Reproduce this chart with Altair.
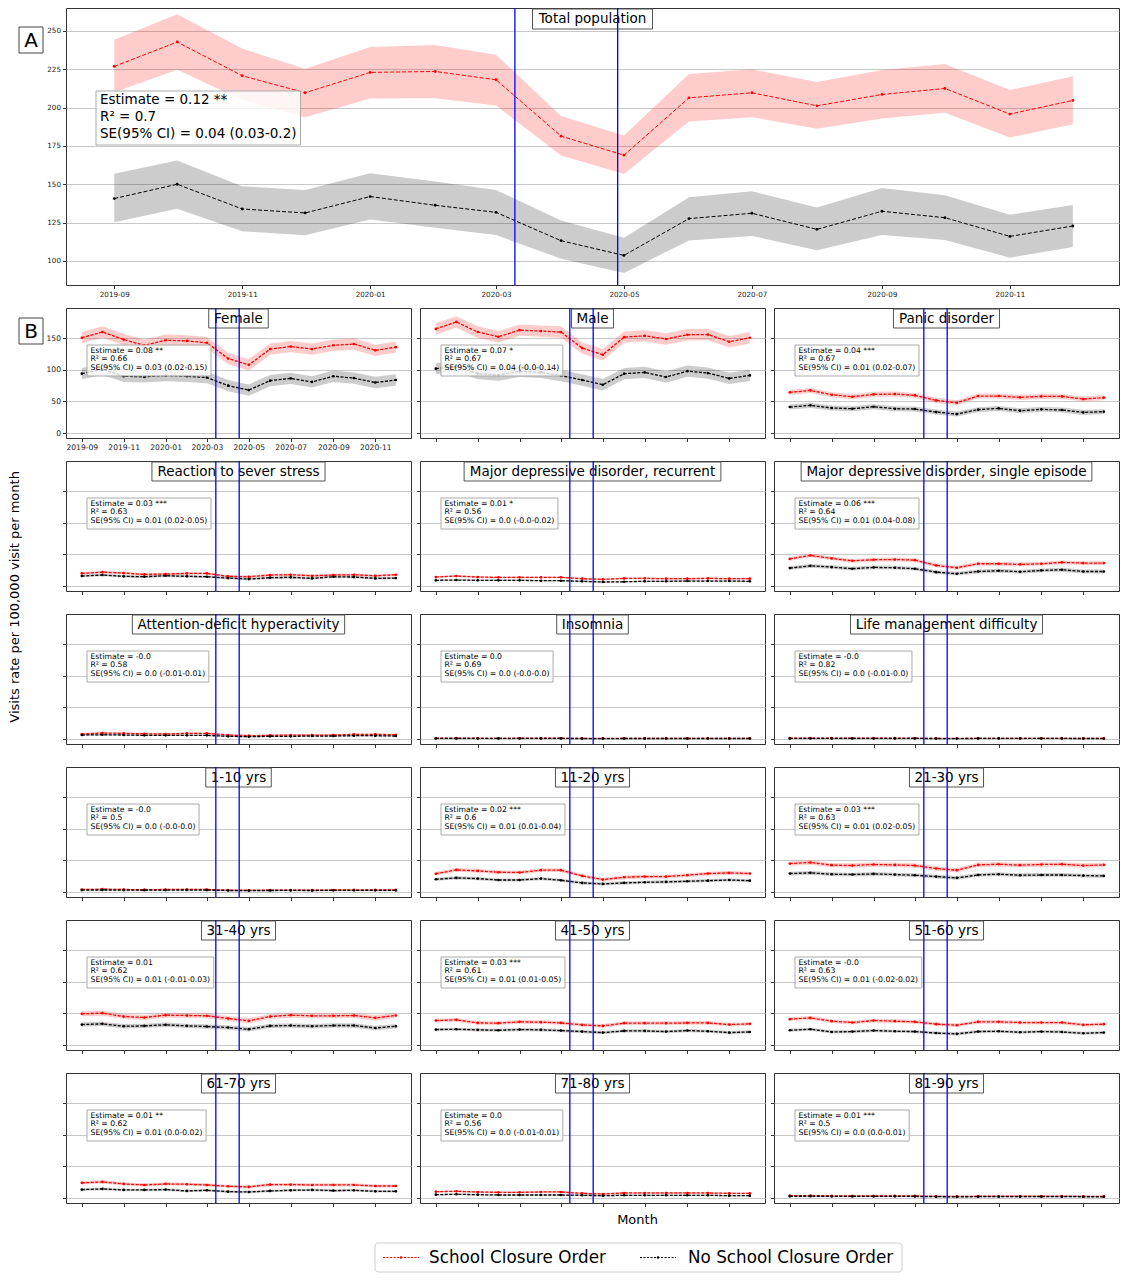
import altair as alt
import pandas as pd

# ---------------- data ----------------
MONTHS = ["2019-09-01", "2019-10-01", "2019-11-01", "2019-12-01", "2020-01-01", "2020-02-01",
          "2020-03-01", "2020-04-01", "2020-05-01", "2020-06-01", "2020-07-01", "2020-08-01",
          "2020-09-01", "2020-10-01", "2020-11-01", "2020-12-01"]
TICK_MONTHS = ["2019-09-01", "2019-11-01", "2020-01-01", "2020-03-01",
               "2020-05-01", "2020-07-01", "2020-09-01", "2020-11-01"]
GROUPS = ["School Closure Order", "No School Closure Order"]

# Panel A: total population
A_red = [226.9, 242.8, 220.8, 209.7, 223.0, 223.6, 218.2, 181.4, 169.0, 206.4, 209.7, 201.2, 208.6, 212.5, 195.8, 204.7]
A_red_hi = [244.3, 260.9, 238.5, 225.4, 239.5, 240.9, 234.5, 194.5, 181.8, 221.9, 225.0, 216.7, 224.5, 228.4, 211.5, 220.4]
A_red_lo = [210.0, 224.7, 205.0, 193.8, 206.0, 206.2, 201.4, 168.8, 156.7, 191.0, 193.8, 186.2, 192.9, 196.6, 180.5, 189.2]
A_blk = [140.7, 150.0, 133.9, 131.3, 142.0, 136.3, 131.7, 113.2, 103.6, 127.6, 131.1, 120.6, 132.4, 128.2, 116.0, 122.8]
A_blk_hi = [156.8, 165.5, 148.7, 146.3, 157.2, 151.8, 146.3, 126.3, 115.2, 141.5, 145.5, 134.8, 147.6, 142.8, 130.2, 136.5]
A_blk_lo = [125.2, 134.1, 119.3, 116.7, 127.0, 121.7, 116.9, 101.5, 92.2, 113.4, 116.3, 106.9, 116.9, 113.7, 102.1, 109.1]
A_stats = ["Estimate = 0.12 **", "R\u00b2 = 0.7", "SE(95% CI) = 0.04 (0.03-0.2)"]
A_vlines = ["2020-03-10", "2020-04-28"]
B_vlines = ["2020-03-14", "2020-04-17"]

B_names = ["Female", "Male", "Panic disorder",
           "Reaction to sever stress", "Major depressive disorder, recurrent",
           "Major depressive disorder, single episode",
           "Attention-deficit hyperactivity", "Insomnia", "Life management difficulty",
           "1-10 yrs", "11-20 yrs", "21-30 yrs",
           "31-40 yrs", "41-50 yrs", "51-60 yrs",
           "61-70 yrs", "71-80 yrs", "81-90 yrs"]

B_red = [
    [151, 160, 148, 139, 147, 146, 143, 118, 108, 133, 137, 133, 139, 141, 131, 136],
    [165, 176, 160, 152.5, 163, 161.5, 160, 134.6, 124, 152, 154, 149, 155.7, 156, 144.6, 151],
    [64.4, 67.5, 60.7, 57.5, 61.2, 61.7, 59.6, 51.7, 48, 58.6, 58.6, 56.5, 58, 58, 53.8, 56],
    [20, 22, 20.5, 18.4, 19, 20, 20, 15.3, 14.7, 17.4, 17.9, 16.3, 17.4, 17.9, 16.3, 17.9],
    [14.2, 15.8, 14.2, 13.7, 13.7, 13.7, 13.7, 11.6, 10.5, 12.1, 12.1, 11.6, 11.6, 12.1, 11.6, 11.6],
    [43, 48.4, 43.7, 40, 41.6, 42, 41, 32.6, 29, 35.3, 35.3, 34.2, 35.3, 37.4, 36.3, 36.3],
    [7.9, 9.5, 9, 8.4, 7.9, 9, 9, 6.3, 5.3, 5.8, 6.3, 6.3, 6.3, 7.4, 7.4, 6.8],
    [1.2, 1.3, 1.2, 1.1, 1.2, 1.2, 1.2, 1.0, 0.9, 1.0, 1.0, 1.0, 1.0, 1.1, 1.0, 1.0],
    [1.3, 1.4, 1.3, 1.2, 1.3, 1.3, 1.2, 1.0, 0.9, 1.1, 1.1, 1.1, 1.1, 1.1, 1.0, 1.0],
    [4, 4.5, 4, 3.8, 4, 4.3, 4, 3, 2.8, 3, 3, 3, 3.2, 3.5, 3.3, 3.4],
    [29, 35, 33.5, 31.4, 31, 34.6, 34.6, 25.5, 19.7, 23.4, 24.5, 24.5, 26.6, 29.3, 30.3, 29.3],
    [45, 46.8, 42.6, 42, 43.6, 43, 42, 37.2, 34.6, 43, 44, 42.6, 43.6, 44, 42, 43],
    [49.5, 50.5, 45.2, 43.6, 47.3, 46.8, 46.3, 42, 38.3, 45.2, 47.3, 46.3, 46.3, 46.8, 43, 46.8],
    [38.8, 39.9, 35, 34.6, 36.7, 36.2, 35, 32, 30.3, 34.6, 34.6, 34.6, 35, 35, 32.4, 33.5],
    [41, 43, 37.8, 35.6, 38.8, 37.8, 36.7, 33, 31.4, 36.7, 36.7, 35.6, 35.6, 35.6, 32, 33],
    [24, 25.5, 22.3, 20.7, 22.3, 21.8, 20.7, 18.6, 17.6, 21.3, 21.3, 20.7, 20.7, 20.7, 19, 19],
    [10.1, 10.6, 9.6, 9, 9, 9.6, 9.6, 7.4, 6.4, 8, 8, 8, 8, 8, 7.4, 7.4],
    [3.7, 3.9, 3.5, 3.4, 3.5, 3.5, 3.3, 2.7, 2.5, 2.8, 2.8, 2.8, 2.9, 2.9, 2.7, 2.7],
]
B_blk = [
    [94, 101, 90, 89, 91, 90, 88, 75, 68, 83, 86.5, 81, 90, 87, 80, 84],
    [102, 105.5, 94, 92, 97.6, 96, 91, 84, 76.5, 94, 96, 88.7, 98, 95, 86.5, 91.3],
    [41.2, 43.8, 39.6, 38.5, 41.7, 38.5, 38, 33.2, 30, 37, 39, 35.4, 37.5, 36.4, 32.7, 33.8],
    [15.8, 17.4, 15.3, 14.7, 16.3, 15.3, 14.7, 12.6, 11, 13.2, 13.7, 12.1, 14.7, 14.2, 12.1, 12.6],
    [9, 9.5, 9, 9, 9, 8.4, 8.4, 7.4, 6.3, 6.8, 7.4, 7.4, 7.9, 7.9, 7.9, 7.4],
    [28.4, 32, 30, 27.4, 29.5, 29, 27.4, 22, 19.5, 23, 24.2, 22.6, 24.7, 25.8, 23, 23],
    [6.3, 6.8, 6.3, 5.8, 5.8, 5.8, 5.8, 4.2, 3.7, 4.2, 4.2, 4.7, 4.7, 5.3, 5.3, 4.7],
    [0.9, 1.0, 0.9, 0.9, 0.9, 0.9, 0.9, 0.8, 0.7, 0.8, 0.8, 0.8, 0.8, 0.8, 0.8, 0.8],
    [1.0, 1.1, 1.0, 1.0, 1.0, 1.0, 0.9, 0.8, 0.7, 0.9, 0.9, 0.9, 0.9, 0.9, 0.8, 0.8],
    [3, 3.2, 3, 2.8, 3, 3.2, 3, 2.4, 2.2, 2.4, 2.5, 2.4, 2.6, 2.7, 2.6, 2.7],
    [20.2, 22.3, 21.3, 19, 19, 21.3, 18.6, 14.4, 12.8, 14.4, 15.4, 16, 17, 18, 19, 18],
    [29.3, 30.3, 28.2, 27.7, 28.7, 27.7, 26.6, 24.5, 22.3, 27, 28.2, 26.6, 27, 27, 26, 25.5],
    [32.4, 33.5, 29.8, 30.3, 32, 30.3, 29.3, 27.7, 25, 30.3, 30.9, 29.8, 30.9, 30.9, 27, 29.8],
    [24.5, 25, 24, 23.4, 24.5, 24, 22.9, 21.3, 19.7, 22.3, 22.3, 21.3, 22.9, 21.8, 19.7, 20.7],
    [23.4, 25, 20.7, 21.3, 22.9, 21.8, 21.3, 19, 17.6, 21.3, 21.8, 20.2, 21.3, 20.7, 18.6, 19.7],
    [13.3, 14.4, 12.8, 12.8, 13.3, 11.2, 12.2, 10.1, 9.6, 11.2, 12.2, 12.8, 11.7, 12.2, 10.6, 10.6],
    [5.3, 5.9, 5.3, 4.8, 4.8, 4.8, 4.8, 4.3, 3.7, 4.3, 4.3, 4.3, 4.3, 4.3, 3.7, 3.7],
    [2.7, 2.9, 2.6, 2.5, 2.6, 2.6, 2.5, 2.1, 1.9, 2.1, 2.2, 2.1, 2.2, 2.2, 2.0, 2.0],
]
# approximate half-widths of the 95% CI bands
B_red_hw = [9, 9, 4, 2, 1.5, 3, 1.5, 0.5, 0.5, 1, 3, 3.5, 4, 3, 3, 2.5, 1.5, 1]
B_blk_hw = [9, 9, 4, 2, 1.2, 3, 1.2, 0.5, 0.5, 1, 2.5, 3, 3.5, 2.5, 2.5, 2, 1.2, 0.8]

B_est = ["0.08 **", "0.07 *", "0.04 ***", "0.03 ***", "0.01 *", "0.06 ***", "-0.0", "0.0", "-0.0",
         "-0.0", "0.02 ***", "0.03 ***", "0.01", "0.03 ***", "-0.0", "0.01 **", "0.0", "0.01 ***"]
B_r2 = ["0.66", "0.67", "0.67", "0.63", "0.56", "0.64", "0.58", "0.69", "0.82",
        "0.5", "0.6", "0.63", "0.62", "0.61", "0.63", "0.62", "0.56", "0.5"]
B_se = ["0.03 (0.02-0.15)", "0.04 (-0.0-0.14)", "0.01 (0.02-0.07)", "0.01 (0.02-0.05)",
        "0.0 (-0.0-0.02)", "0.01 (0.04-0.08)", "0.0 (-0.01-0.01)", "0.0 (-0.0-0.0)",
        "0.0 (-0.01-0.0)", "0.0 (-0.0-0.0)", "0.01 (0.01-0.04)", "0.01 (0.02-0.05)",
        "0.01 (-0.01-0.03)", "0.01 (0.01-0.05)", "0.01 (-0.02-0.02)", "0.01 (0.0-0.02)",
        "0.0 (-0.01-0.01)", "0.0 (0.0-0.01)"]

# ---------------- helpers ----------------
FONT = "DejaVu Sans"
RED = "#ff0000"
BLACK = "#000000"
COLOR = alt.Scale(domain=GROUPS, range=[RED, BLACK])

CW = {' ': 0.318, '.': 0.318, ',': 0.318, '-': 0.361, '(': 0.39, ')': 0.39, '=': 0.838, '%': 0.95,
      '*': 0.5, '\u00b2': 0.401,
      'A': 0.684, 'B': 0.686, 'C': 0.698, 'D': 0.77, 'E': 0.632, 'F': 0.575, 'I': 0.295, 'L': 0.557,
      'M': 0.863, 'P': 0.603, 'R': 0.695, 'S': 0.635, 'T': 0.611,
      'a': 0.613, 'b': 0.635, 'c': 0.55, 'd': 0.635, 'e': 0.615, 'f': 0.352, 'g': 0.635, 'h': 0.634,
      'i': 0.278, 'j': 0.278, 'k': 0.579, 'l': 0.278, 'm': 0.974, 'n': 0.634, 'o': 0.612, 'p': 0.635,
      'q': 0.635, 'r': 0.411, 's': 0.521, 't': 0.392, 'u': 0.634, 'v': 0.592, 'w': 0.818, 'x': 0.592,
      'y': 0.592, 'z': 0.525}


def tw(s, fs):
    return sum(CW.get(c, 0.636) for c in s) * fs


def dt(s):
    y, m, d = (int(p) for p in s.split("-"))
    return alt.DateTime(year=y, month=m, date=d)


XDOM = [dt("2019-08-09"), dt("2020-12-23")]
ONE = pd.DataFrame({"k": [0]})


def frame(red, rlo, rhi, blk, blo, bhi):
    rows = []
    for i, m in enumerate(MONTHS):
        rows.append({"month": m + "T00:00:00", "group": GROUPS[0], "value": red[i], "lo": rlo[i], "hi": rhi[i]})
        rows.append({"month": m + "T00:00:00", "group": GROUPS[1], "value": blk[i], "lo": blo[i], "hi": bhi[i]})
    return pd.DataFrame(rows)


def box(x0, x1, y0, y1, stroke, fill_opacity=1.0, radius=0):
    return alt.Chart(ONE).mark_rect(fill="white", fillOpacity=fill_opacity, stroke=stroke,
                                    strokeWidth=1, cornerRadius=radius).encode(
        x=alt.value(x0), x2=alt.value(x1), y=alt.value(y0), y2=alt.value(y1))


def text(s, x, y, fs, align="center", baseline="middle", line_h=None):
    kw = dict(align=align, baseline=baseline, fontSize=fs, font=FONT, color="black")
    if line_h is not None:
        kw.update(lineBreak="\n", lineHeight=line_h)
    return alt.Chart(ONE).mark_text(**kw).encode(x=alt.value(x), y=alt.value(y), text=alt.value(s))


def legend_layers(x0, y0):
    """Legend drawn as a guide below the grid (box, dashed samples with a dot, labels)."""
    out = [box(x0, x0 + 527, y0, y0 + 29, "#cccccc", radius=3)]
    cy = y0 + 14.5
    entries = [(GROUPS[0], RED, x0 + 8, x0 + 54), (GROUPS[1], BLACK, x0 + 265, x0 + 313)]
    for label, col, sx, lx in entries:
        out.append(alt.Chart(ONE).mark_rule(color=col, strokeWidth=1, strokeDash=[2, 1.5]).encode(
            x=alt.value(sx), x2=alt.value(sx + 36), y=alt.value(cy)))
        out.append(alt.Chart(ONE).mark_circle(color=col, size=6, opacity=1).encode(
            x=alt.value(sx + 18), y=alt.value(cy)))
        out.append(text(label, lx, cy + 0.5, 16.8, align="left"))
    return out


def panel(df, *, width, height, ydom, yvals, xlabels, ylabels, labfs, title, tbox_y,
          ann, ann_fs, ann_lh, ann_box, vlines, dash, pt, sw, xtitle=None, extras=()):
    xaxis_kw = dict(values=[dt(t) for t in TICK_MONTHS], format="%Y-%m", labels=xlabels,
                    labelFontSize=labfs, tickSize=3.5, grid=False, domain=False, labelPadding=2,
                    tickColor="#333333", labelColor="#222222", labelFont=FONT)
    if xtitle is not None:
        xaxis_kw.update(titleX=xtitle[0], titleY=xtitle[1], titleAlign="center", titleBaseline="middle",
                        titleFontSize=13, titleFontWeight="normal", titleFont=FONT, titleColor="black")
    X = alt.X("month:T", title="Month" if xtitle is not None else None,
              scale=alt.Scale(domain=XDOM), axis=alt.Axis(**xaxis_kw))
    yaxis = alt.Axis(values=yvals, labels=ylabels, labelFontSize=labfs, tickSize=3.5, grid=True,
                     gridColor="#c8c8c8", gridWidth=1, domain=False, labelPadding=2,
                     tickColor="#333333", labelColor="#222222", labelFont=FONT)
    yscale = alt.Scale(domain=ydom, nice=False, zero=False)
    Yv = alt.Y("value:Q", title=None, scale=yscale, axis=yaxis)
    C = alt.Color("group:N", scale=COLOR, legend=None)
    base = alt.Chart(df)
    band = base.mark_area(opacity=0.2).encode(
        x=X, y=alt.Y("lo:Q", title=None, scale=yscale, axis=yaxis), y2="hi:Q", color=C)
    line = base.mark_line(strokeDash=dash, strokeWidth=sw).encode(x=X, y=Yv, color=C)
    pts = base.mark_circle(size=pt, opacity=1).encode(x=X, y=Yv, color=C)
    bx0, by0, bh, tx, ty = ann_box
    wmax = max(tw(s, ann_fs) for s in ann)
    abox = box(bx0, bx0 + wmax + 2 * (tx - bx0), by0, by0 + bh, "#aaaaaa", 0.8)
    atext = text("\n".join(ann), tx, ty, ann_fs, align="left", baseline="top", line_h=ann_lh)
    cx = width / 2
    tfs = 13.5
    twd = tw(title, tfs) + 10
    tbox = box(cx - twd / 2, cx + twd / 2, tbox_y[0], tbox_y[1], "#555555")
    ttext = text(title, cx, (tbox_y[0] + tbox_y[1]) / 2, tfs)
    rules = alt.Chart(pd.DataFrame({"month": [v + "T00:00:00" for v in vlines]})).mark_rule(
        color="#0000ff", strokeWidth=1.3).encode(x=X)
    layers = [band, line, pts, abox, atext, tbox, ttext, rules] + list(extras)
    return alt.layer(*layers).properties(width=width, height=height)


# ---------------- panel A ----------------
A_W, A_H = 1053, 277
B_W, B_H = 345, 130
COL_GAP, ROW_GAP = 9, 23

dfA = frame(A_red, A_red_lo, A_red_hi, A_blk, A_blk_lo, A_blk_hi)
A_extras = [box(-47, -23, 19, 45, "#444444"), text("A", -35, 32.5, 20)]
chartA = panel(dfA, width=A_W, height=A_H, ydom=[84.3, 265.0], yvals=[100, 125, 150, 175, 200, 225, 250],
               xlabels=True, ylabels=True, labfs=7.2, title="Total population", tbox_y=(1, 21),
               ann=A_stats, ann_fs=13.5, ann_lh=17, ann_box=(30, 83, 54, 34, 85),
               vlines=A_vlines, dash=[4, 2], pt=8, sw=1, extras=A_extras)

# ---------------- panel B ----------------
panels = []
for i, name in enumerate(B_names):
    red = B_red[i]
    blk = B_blk[i]
    df = frame(red, [v - B_red_hw[i] for v in red], [v + B_red_hw[i] for v in red],
               blk, [v - B_blk_hw[i] for v in blk], [v + B_blk_hw[i] for v in blk])
    ann = ["Estimate = " + B_est[i], "R\u00b2 = " + B_r2[i], "SE(95% CI) = " + B_se[i]]
    extras = []
    if i == 0:
        extras = [box(-47, -23, 10, 36, "#444444"), text("B", -35, 23.5, 20)]
    if i == 16:
        extras = legend_layers(-45, 170)
    p = panel(df, width=B_W, height=B_H, ydom=[-7.9, 198.1], yvals=[0, 50, 100, 150],
              xlabels=(i == 0), ylabels=(i == 0), labfs=7.6, title=name, tbox_y=(1, 20),
              ann=ann, ann_fs=7.7, ann_lh=8.8, ann_box=(21, 37, 31, 24.5, 38.5),
              vlines=B_vlines, dash=[3, 1.5], pt=7, sw=1.3,
              xtitle=(217, 16) if i == 16 else None, extras=extras)
    panels.append(p)

grid = alt.concat(*panels, columns=3, spacing={"row": ROW_GAP, "column": COL_GAP}, bounds="flush")

chart = alt.vconcat(
    chartA, grid, spacing=ROW_GAP, bounds="flush",
    title=alt.TitleParams("Visits rate per 100,000 visit per month", orient="left", anchor="middle",
                          fontSize=13, fontWeight="normal", font=FONT, color="black", offset=-4,
                          dx=43),
).properties(
    padding={"left": 0, "top": -2, "right": 0, "bottom": 0}
).configure(font=FONT).configure_view(stroke="#333333", strokeWidth=1)

chart.save("out.html", embed_options={"renderer": "svg", "actions": False})
